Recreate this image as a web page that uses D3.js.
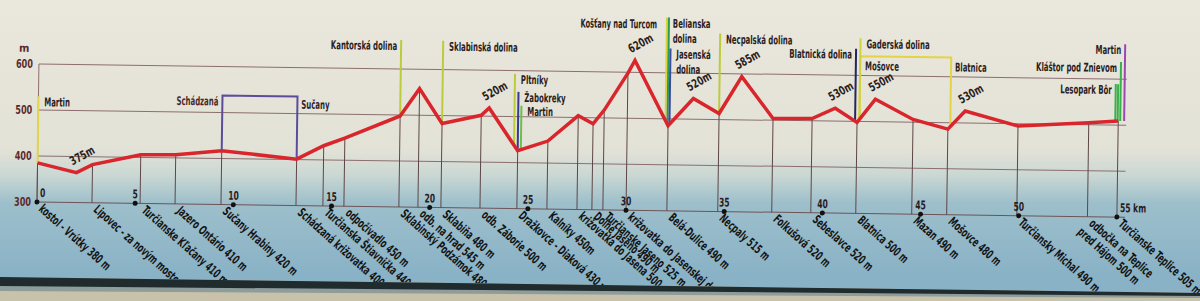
<!DOCTYPE html>
<html>
<head>
<meta charset="utf-8">
<script src="https://cdn.jsdelivr.net/npm/d3@7"></script>
<style>
  html, body { margin: 0; padding: 0; background: #e6e3d8; }
  svg text { font-family: "Liberation Sans Narrow", "Arial Narrow", "DejaVu Sans Condensed", sans-serif; font-weight: bold; }
</style>
</head>
<body>
<svg id="chart" width="1200" height="301"></svg>
<script>
// stations along the trail: name, km, elevation (m)
const stationNames = [
  'kostol - Vrútky 380 m', 'Lipovec - za novým mostom', 'Turčianske Kľačany 410 m', 'Jazero Ontário 410 m',
  'Sučany Hrabiny 420 m', 'Schádzaná križovatka 400', 'Turčianska Štiavnička 440', 'odpočívadlo 450 m',
  'Sklabinský Podzámok 480', 'odb. na hrad 545 m', 'Sklabiňa 480 m', 'odb. Záborie 500 m',
  'Dražkovce - Diaková 430 m', 'Kalníky 450m', 'križovatka do Jasena 500', 'Dolné Jaseno 490 m',
  'Turčianske Jaseno 525 m', 'križovatka do Jasenskej doliny', 'Belá-Dulice 490 m', 'Necpaly 515 m',
  'Folkušová 520 m', 'Sebeslavce 520 m', 'Blatnica 500 m', 'Mazan 490 m', 'Mošovce 480 m',
  'Turčiansky Michal 490 m', 'odbočka na Teplice|pred Hájom 500 m', 'Turčianske Teplice 505 m'
];
const stationKm = [0, 2.8, 5.25, 7.03, 9.37, 13.19, 14.56, 15.63, 18.43, 19.4, 20.57, 22.56,
  24.44, 25.97, 27.5, 28.26, 28.82, 30.0, 32.08, 34.67, 37.42, 39.41, 41.7, 44.55, 46.33, 49.9, 53.5, 55];
const stationElev = [385, 383, 406, 407, 417, 401, 431, 448, 498, 558, 483, 502,
  426, 448, 504, 487, 517, 598, 485, 513, 504, 505, 498, 506, 486, 495, 504, 509];

// labelled high/low points between stations
const peakLabels = ['375m', '520m', '620m', '520m', '585m', '530m', '550m', '530m'];
const peakKm = [1.99, 22.96, 30.35, 33.35, 35.8, 40.58, 42.62, 47.2];
const peakElev = [365, 518, 626, 545, 594, 528, 549, 526];

// side valleys / connecting trails
const branchLabels = ['Martin', 'Kantorská dolina', 'Sklabinská dolina', 'Pltníky', 'Žabokreky', 'Martin',
  'Belianska|dolina', '', 'Jasenská|dolina', 'Necpalská dolina', 'Blatnická dolina', 'Gaderská dolina',
  'Lesopark Bôr', '', 'Kláštor pod Znievom', 'Martin'];
const branchKm = [0, 18.43, 20.57, 24.25, 24.44, 24.6, 31.95, 32.05, 32.15, 34.67, 41.6, 41.82, 54.85, 54.97, 55.1, 55.3];
const branchTop = [530, 663, 663, 593, 554, 524, 720, 720, 653, 687, 658, 681, 589, 589, 637, 676];
const branchSide = ['right', 'left', 'right', 'right', 'right', 'right', 'right', 'right', 'right', 'right',
  'left', 'right', 'left', 'left', 'left', 'left'];
const branchColors = ['#e2d64a', '#bccb3c', '#bccb3c', '#bccb3c', '#3a3a8c', '#6cc04a', '#dcd23e', '#2a9a5a',
  '#3a4aa6', '#bccb3c', '#26265e', '#cfd23e', '#3ab04a', '#3ab04a', '#3ab04a', '#9a48b4'];

// loop trails drawn as boxes over the profile
const loopFrom = [9.37, 41.82];
const loopTo = [13.19, 46.45];
const loopTop = [537, 642];
const loopStartLabels = ['Schádzaná', 'Mošovce'];
const loopEndLabels = ['Sučany', 'Blatnica'];
const loopColors = ['#5b4c9c', '#e2d444'];

const kmTicks = [0, 5, 10, 15, 20, 25, 30, 35, 40, 45, 50, 55];
const elevTicks = [300, 400, 500, 600];

const width = 1200, height = 301;
const svg = d3.select('#chart');

// background of the photographed board
const defs = svg.append('defs');
const grad = defs.append('linearGradient').attr('id', 'bg')
  .attr('gradientUnits', 'userSpaceOnUse').attr('x1', 0).attr('y1', 0).attr('x2', 0).attr('y2', height);
[[0, '#eae7dc'], [150, '#e3e2d7'], [176, '#c9d7d3'], [203, '#9dbfcb'], [275, '#89b2c6']].forEach(([o, c]) => {
  grad.append('stop').attr('offset', o / height).attr('stop-color', c);
});
svg.append('rect').attr('width', width).attr('height', height).attr('fill', 'url(#bg)');

const x = d3.scaleLinear().domain([0, 55]).range([37, 1117]);
const y = d3.scaleLinear().domain([300, 600]).range([202, 64]);

// board is photographed slightly tilted
const g = svg.append('g').attr('transform', `rotate(0.8, ${x(0)}, ${y(300)})`);

// condensed lettering: squeeze each text to a share of its natural width
const squeeze = (sel, f) => sel.each(function () {
  const len = this.getComputedTextLength();
  d3.select(this).attr('textLength', len * f).attr('lengthAdjust', 'spacingAndGlyphs');
});

const profile = stationKm.map((km, i) => ({ km, elev: stationElev[i] }))
  .concat(peakKm.map((km, i) => ({ km, elev: peakElev[i] })))
  .sort((a, b) => a.km - b.km);

const elevAt = km => {
  if (km <= profile[0].km) return profile[0].elev;
  const last = profile[profile.length - 1];
  if (km >= last.km) return last.elev;
  const i = d3.bisector(d => d.km).left(profile, km);
  const a = profile[i - 1], b = profile[i];
  return a.elev + (b.elev - a.elev) * (km - a.km) / (b.km - a.km);
};

const gridColor = '#8c6e70';
const FS = 12;
const LABEL_F = 0.64;

// horizontal grid lines
g.selectAll('.grid').data(elevTicks).join('line')
  .attr('x1', x(0)).attr('x2', x(55) + 8)
  .attr('y1', d => y(d)).attr('y2', d => y(d))
  .attr('stroke', d => d === 300 ? '#6e5458' : gridColor)
  .attr('stroke-width', 1);

g.append('line')
  .attr('x1', x(0)).attr('x2', x(0)).attr('y1', y(300)).attr('y2', y(600))
  .attr('stroke', gridColor);

g.selectAll('.ylab').data(elevTicks).join('text')
  .attr('x', x(0) - 6).attr('y', d => y(d) + 4)
  .attr('text-anchor', 'end').attr('font-size', FS).attr('fill', '#5c2a2c')
  .text(d => d)
  .call(squeeze, 0.75);

g.append('text').attr('x', 22).attr('y', 52).attr('text-anchor', 'middle')
  .attr('font-size', FS - 1).attr('fill', '#5c2a2c').text('m');

// station verticals
g.selectAll('.station').data(stationKm).join('line')
  .attr('x1', d => x(d)).attr('x2', d => x(d))
  .attr('y1', (d, i) => y(stationElev[i])).attr('y2', y(300))
  .attr('stroke', '#5e4648').attr('stroke-width', 1);

// loops
loopFrom.forEach((from, i) => {
  const to = loopTo[i];
  const path = d3.path();
  path.moveTo(x(from), y(elevAt(from)));
  path.lineTo(x(from), y(loopTop[i]));
  path.lineTo(x(to), y(loopTop[i]));
  path.lineTo(x(to), y(elevAt(to)));
  g.append('path').attr('d', path.toString())
    .attr('fill', 'none').attr('stroke', loopColors[i]).attr('stroke-width', 2);
});
const loopText = (xp, yp, anchor, txt, col) => g.append('text')
  .attr('x', xp).attr('y', yp).attr('text-anchor', anchor)
  .attr('font-size', FS).attr('fill', col).text(txt).call(squeeze, LABEL_F);
loopText(x(loopFrom[0]) - 4, y(loopTop[0]) + 10, 'end', loopStartLabels[0], '#4a2a2a');
loopText(x(loopTo[0]) + 4, y(loopTop[0]) + 12, 'start', loopEndLabels[0], '#2a2230');
loopText(x(loopFrom[1]) + 5, y(loopTop[1]) + 14, 'start', loopStartLabels[1], '#2a2222');
loopText(x(loopTo[1]) + 4, y(loopTop[1]) + 14, 'start', loopEndLabels[1], '#2a2222');

// branch lines
g.selectAll('.branch').data(branchKm).join('line')
  .attr('x1', d => x(d)).attr('x2', d => x(d))
  .attr('y1', (d, i) => y(branchTop[i])).attr('y2', d => y(elevAt(d)))
  .attr('stroke', (d, i) => branchColors[i]).attr('stroke-width', 2);

branchKm.forEach((km, i) => {
  if (!branchLabels[i]) return;
  const left = branchSide[i] === 'left';
  branchLabels[i].split('|').forEach((line, j) => {
    g.append('text')
      .attr('x', x(km) + (left ? -4 : 6))
      .attr('y', y(branchTop[i]) + 10 + j * 15)
      .attr('text-anchor', left ? 'end' : 'start')
      .attr('font-size', FS).attr('fill', '#2a2020')
      .text(line)
      .call(squeeze, LABEL_F);
  });
});

g.append('text').attr('x', x(29.5)).attr('y', y(696))
  .attr('text-anchor', 'middle').attr('font-size', FS).attr('fill', '#2a2020')
  .text('Košťany nad Turcom')
  .call(squeeze, 0.62);

// elevation profile
const line = d3.line().x(d => x(d.km)).y(d => y(d.elev));
g.append('path').datum(profile).attr('d', line)
  .attr('fill', 'none').attr('stroke', '#d8262c').attr('stroke-width', 3.5)
  .attr('stroke-linejoin', 'miter');

// peak labels
g.selectAll('.peak').data(peakKm).join('text')
  .attr('transform', (d, i) => `translate(${x(d) - 4},${y(peakElev[i]) - 7}) rotate(-30)`)
  .attr('font-size', FS).attr('fill', '#2a2020')
  .text((d, i) => peakLabels[i])
  .call(squeeze, 0.78);

// km ticks
g.selectAll('.dot').data(kmTicks).join('circle')
  .attr('cx', d => x(d)).attr('cy', y(300)).attr('r', 2.5).attr('fill', '#111');

g.selectAll('.klab').data(kmTicks).join('text')
  .attr('x', d => d === 0 || d === 55 ? x(d) + 3 : x(d))
  .attr('y', y(300) - 5)
  .attr('text-anchor', d => d === 0 || d === 55 ? 'start' : 'middle')
  .attr('font-size', FS).attr('fill', '#2a1a1c')
  .text(d => d === 55 ? '55 km' : d)
  .call(squeeze, 0.7);

// station names below the axis
stationKm.forEach((km, i) => {
  stationNames[i].split('|').forEach((line, j) => {
    g.append('text')
      .attr('transform', `translate(${x(km) + 1},${y(300) + 8}) rotate(41) translate(${j ? -3 : 0},${j * 14})`)
      .attr('font-size', FS + 0.5).attr('fill', '#141414')
      .text(line)
      .call(squeeze, 0.67);
  });
});

// frame edge of the board at the bottom, slightly slanted like the photo
svg.append('path').attr('d', `M0,277 L${width},293 L${width},301 L0,301 Z`).attr('fill', '#c9c2ab');
svg.append('path').attr('d', `M0,277 L${width},293 L${width},298 L0,291 Z`).attr('fill', '#8e9c9c');
svg.append('path').attr('d', `M0,277 L${width},293 L${width},296 L0,286 Z`).attr('fill', '#1f2b2c');
</script>
</body>
</html>
